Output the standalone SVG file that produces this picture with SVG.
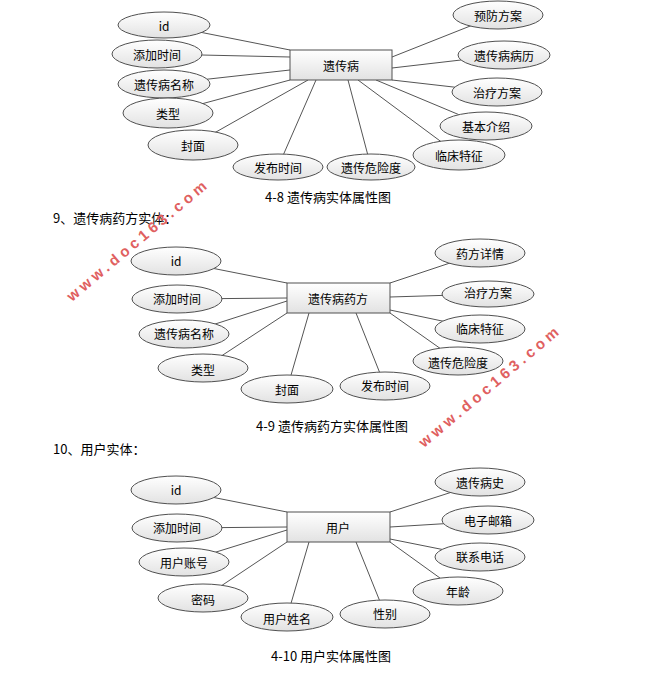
<svg xmlns="http://www.w3.org/2000/svg" width="657" height="699" viewBox="0 0 657 699">
<defs>
<linearGradient id="g" x1="0" y1="0" x2="0" y2="1"><stop offset="0" stop-color="#ffffff"/><stop offset="1" stop-color="#e2e2e2"/></linearGradient>
</defs>
<style>
text{font-family:"Noto Sans CJK SC","Liberation Sans",sans-serif;fill:#000}
.n text{font-size:12px;text-anchor:middle;dominant-baseline:central}
.n ellipse,.n rect{fill:url(#g);stroke:#505050;stroke-width:1}
#connectors line{stroke:#555;stroke-width:1}
.cap{font-size:13px;text-anchor:middle}
.hd{font-size:13px}
.wm{font-family:"Liberation Sans",sans-serif;font-size:15px;font-weight:bold;fill:#e06060;letter-spacing:4px}
</style>
<rect width="657" height="699" fill="#fff"/>
<g id="connectors">
<line x1="164" y1="25" x2="290" y2="50"/><line x1="157" y1="54" x2="290" y2="57"/><line x1="164" y1="84" x2="290" y2="70"/><line x1="168" y1="113" x2="290" y2="80"/><line x1="193" y1="145" x2="308" y2="80"/><line x1="278" y1="167" x2="316" y2="80"/><line x1="371" y1="167" x2="348" y2="80"/><line x1="459" y1="155" x2="358" y2="80"/><line x1="486" y1="126" x2="376" y2="80"/><line x1="497" y1="92" x2="392" y2="80"/><line x1="504" y1="55" x2="392" y2="68"/><line x1="498" y1="15" x2="392" y2="57"/>
<line x1="176" y1="261" x2="287" y2="283"/><line x1="177" y1="299" x2="287" y2="298"/><line x1="184" y1="334" x2="287" y2="301"/><line x1="203" y1="368" x2="287" y2="313"/><line x1="287" y1="389" x2="309" y2="313"/><line x1="385" y1="386" x2="356" y2="313"/><line x1="458" y1="361" x2="390" y2="313"/><line x1="480" y1="329" x2="390" y2="310"/><line x1="488" y1="294" x2="390" y2="297"/><line x1="480" y1="253" x2="390" y2="283"/>
<line x1="176" y1="490" x2="287" y2="512"/><line x1="177" y1="528" x2="287" y2="527"/><line x1="184" y1="562" x2="287" y2="530"/><line x1="203" y1="598" x2="287" y2="542"/><line x1="287" y1="617" x2="309" y2="542"/><line x1="385" y1="614" x2="356" y2="542"/><line x1="458" y1="591" x2="390" y2="542"/><line x1="480" y1="557" x2="390" y2="539"/><line x1="488" y1="521" x2="390" y2="527"/><line x1="480" y1="483" x2="390" y2="512"/>
</g>
<g class="n">
<g id="e1"><rect x="290" y="50" width="102" height="30"/><text x="341" y="65">遗传病</text></g>
<g id="e1a1"><ellipse cx="164" cy="25" rx="46" ry="13"/><text x="164" y="25">id</text></g>
<g id="e1a2"><ellipse cx="157" cy="54" rx="45" ry="14"/><text x="157" y="54">添加时间</text></g>
<g id="e1a3"><ellipse cx="164" cy="84" rx="46" ry="14"/><text x="164" y="84">遗传病名称</text></g>
<g id="e1a4"><ellipse cx="168" cy="113" rx="45" ry="15"/><text x="168" y="113">类型</text></g>
<g id="e1a5"><ellipse cx="193" cy="145" rx="45" ry="15"/><text x="193" y="145">封面</text></g>
<g id="e1a6"><ellipse cx="278" cy="167" rx="45" ry="13"/><text x="278" y="167">发布时间</text></g>
<g id="e1a7"><ellipse cx="371" cy="167" rx="44" ry="13"/><text x="371" y="167">遗传危险度</text></g>
<g id="e1a8"><ellipse cx="459" cy="155" rx="46" ry="15"/><text x="459" y="155">临床特征</text></g>
<g id="e1a9"><ellipse cx="486" cy="126" rx="46" ry="14"/><text x="486" y="126">基本介绍</text></g>
<g id="e1a10"><ellipse cx="497" cy="92" rx="45" ry="14"/><text x="497" y="92">治疗方案</text></g>
<g id="e1a11"><ellipse cx="504" cy="55" rx="46" ry="14"/><text x="504" y="55">遗传病病历</text></g>
<g id="e1a12"><ellipse cx="498" cy="15" rx="45" ry="14"/><text x="498" y="15">预防方案</text></g>

<g id="e2"><rect x="287" y="283" width="103" height="30"/><text x="338" y="298">遗传病药方</text></g>
<g id="e2a1"><ellipse cx="176" cy="261" rx="45" ry="14"/><text x="176" y="260">id</text></g>
<g id="e2a2"><ellipse cx="177" cy="299" rx="45" ry="14"/><text x="177" y="298">添加时间</text></g>
<g id="e2a3"><ellipse cx="184" cy="334" rx="45" ry="14"/><text x="184" y="333">遗传病名称</text></g>
<g id="e2a4"><ellipse cx="203" cy="368" rx="45" ry="14"/><text x="203" y="369">类型</text></g>
<g id="e2a5"><ellipse cx="287" cy="389" rx="46" ry="14"/><text x="287" y="389">封面</text></g>
<g id="e2a6"><ellipse cx="385" cy="386" rx="45" ry="14"/><text x="385" y="385">发布时间</text></g>
<g id="e2a7"><ellipse cx="458" cy="361" rx="45" ry="14"/><text x="458" y="362">遗传危险度</text></g>
<g id="e2a8"><ellipse cx="480" cy="329" rx="45" ry="14"/><text x="480" y="328">临床特征</text></g>
<g id="e2a9"><ellipse cx="488" cy="294" rx="46" ry="13"/><text x="488" y="292">治疗方案</text></g>
<g id="e2a10"><ellipse cx="480" cy="253" rx="45" ry="14"/><text x="480" y="253">药方详情</text></g>

<g id="e3"><rect x="287" y="512" width="103" height="30"/><text x="338" y="527">用户</text></g>
<g id="e3a1"><ellipse cx="176" cy="490" rx="45" ry="14"/><text x="176" y="489">id</text></g>
<g id="e3a2"><ellipse cx="177" cy="528" rx="45" ry="14"/><text x="177" y="527">添加时间</text></g>
<g id="e3a3"><ellipse cx="184" cy="562" rx="45" ry="14"/><text x="184" y="562">用户账号</text></g>
<g id="e3a4"><ellipse cx="203" cy="598" rx="45" ry="14"/><text x="203" y="599">密码</text></g>
<g id="e3a5"><ellipse cx="287" cy="617" rx="46" ry="14"/><text x="287" y="618">用户姓名</text></g>
<g id="e3a6"><ellipse cx="385" cy="614" rx="45" ry="14"/><text x="385" y="613">性别</text></g>
<g id="e3a7"><ellipse cx="458" cy="591" rx="45" ry="14"/><text x="458" y="591">年龄</text></g>
<g id="e3a8"><ellipse cx="480" cy="557" rx="45" ry="14"/><text x="480" y="556">联系电话</text></g>
<g id="e3a9"><ellipse cx="488" cy="520" rx="46" ry="14"/><text x="488" y="520">电子邮箱</text></g>
<g id="e3a10"><ellipse cx="480" cy="482" rx="45" ry="14"/><text x="480" y="482">遗传病史</text></g>
</g>
<text class="cap" x="328" y="202">4-8 遗传病实体属性图</text>
<text class="hd" x="53" y="223">9、遗传病药方实体：</text>
<text class="cap" x="332" y="431">4-9 遗传病药方实体属性图</text>
<text class="hd" x="53" y="454">10、用户实体：</text>
<text class="cap" x="331" y="661">4-10 用户实体属性图</text>
<text class="wm" transform="translate(72,302) rotate(-40)">www.doc163.com</text>
<text class="wm" transform="translate(424,448) rotate(-40)">www.doc163.com</text>
</svg>
